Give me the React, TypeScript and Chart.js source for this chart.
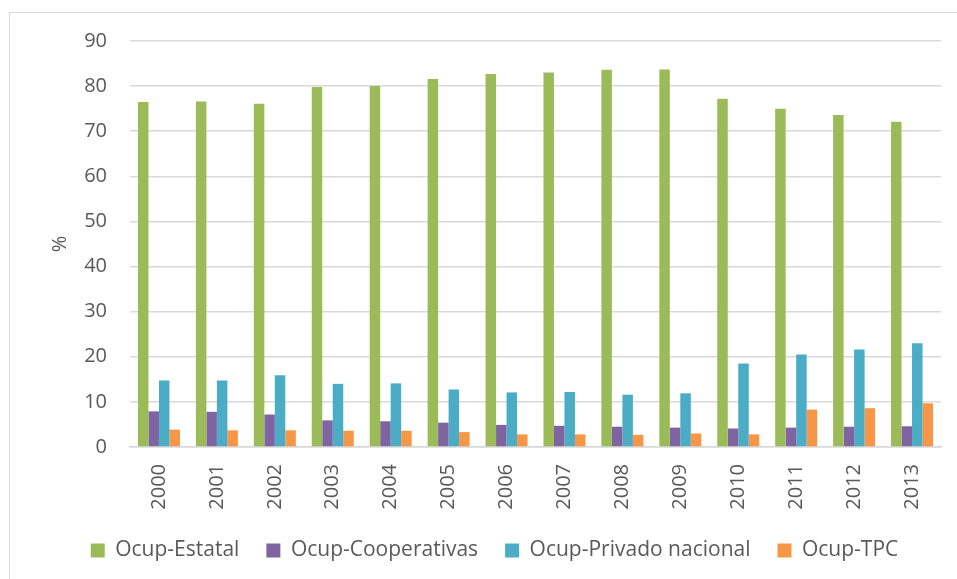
import React, { useEffect, useRef } from "react";
import { Chart, registerables } from "chart.js";

Chart.register(...registerables);

const years = ["2000","2001","2002","2003","2004","2005","2006","2007","2008","2009","2010","2011","2012","2013"];
const estatal = [76.5, 76.6, 76.1, 79.8, 80.0, 81.6, 82.7, 83.0, 83.6, 83.7, 77.2, 75.0, 73.6, 72.1];
const cooperativas = [7.9, 7.8, 7.2, 5.9, 5.7, 5.4, 4.9, 4.7, 4.5, 4.3, 4.1, 4.3, 4.5, 4.6];
const privado = [14.75, 14.75, 15.9, 14.0, 14.1, 12.75, 12.1, 12.2, 11.6, 11.9, 18.5, 20.5, 21.6, 23.0];
const tpc = [3.85, 3.7, 3.7, 3.6, 3.6, 3.3, 2.8, 2.8, 2.7, 3.0, 2.8, 8.3, 8.6, 9.7];
const seriesNames = ["Ocup-Estatal", "Ocup-Cooperativas", "Ocup-Privado nacional", "Ocup-TPC"];
const seriesColors = ["#9BBB59", "#8064A2", "#4BACC6", "#F79646"];

export default function App() {
  const ref = useRef<HTMLCanvasElement>(null);
  useEffect(() => {
    document.body.style.margin = "0";
    const ctx = ref.current!;
    const values = [estatal, cooperativas, privado, tpc];
    const chart = new Chart(ctx, {
      type: "bar",
      data: {
        labels: years,
        datasets: values.map((v, i) => ({
          label: seriesNames[i],
          data: v,
          backgroundColor: seriesColors[i],
          borderWidth: 0,
          barPercentage: 1,
          categoryPercentage: 0.725,
        })),
      },
      options: {
        responsive: false,
        animation: false,
        layout: { padding: { left: 48, top: 41, right: 16, bottom: 8 } },
        font: { family: "'Open Sans'" },
        plugins: {
          tooltip: { enabled: false },
          legend: {
            position: "bottom",
            labels: {
              color: "#595959",
              font: { family: "'Open Sans'", size: 21 },
              boxWidth: 14,
              boxHeight: 14,
              padding: 27,
            },
          },
        },
        scales: {
          x: {
            grid: { display: false, drawTicks: false },
            border: { display: true, color: "#d9d9d9", width: 1.5 },
            ticks: {
              color: "#595959",
              font: { family: "'Open Sans'", size: 20 },
              minRotation: 90,
              maxRotation: 90,
              padding: 17,
            },
            afterFit: (s: any) => { s.height = 66; },
          },
          y: {
            min: 0,
            max: 90,
            ticks: {
              stepSize: 10,
              color: "#595959",
              font: { family: "'Open Sans'", size: 20 },
              padding: 23,
            },
            grid: { color: "#d9d9d9", lineWidth: 1.5, drawTicks: false },
            border: { display: false },
            title: {
              display: true,
              text: "%",
              color: "#595959",
              font: { family: "'Open Sans'", size: 20 },
              padding: { top: 0, bottom: 12 },
            },
            afterFit: (s: any) => { s.width = 82; },
          },
        },
      },
    });
    return () => chart.destroy();
  }, []);
  return (
    <div style={{ position: "absolute", left: 0, top: 0, width: 957, height: 579, overflow: "hidden", background: "#fff" }}>
      <div style={{ position: "absolute", left: 9, top: 12, width: 1000, height: 1000, borderLeft: "1px solid #d9d9d9", borderTop: "1px solid #d9d9d9" }} />
      <canvas ref={ref} width={957} height={579} style={{ position: "absolute", left: 0, top: 0 }} />
    </div>
  );
}
